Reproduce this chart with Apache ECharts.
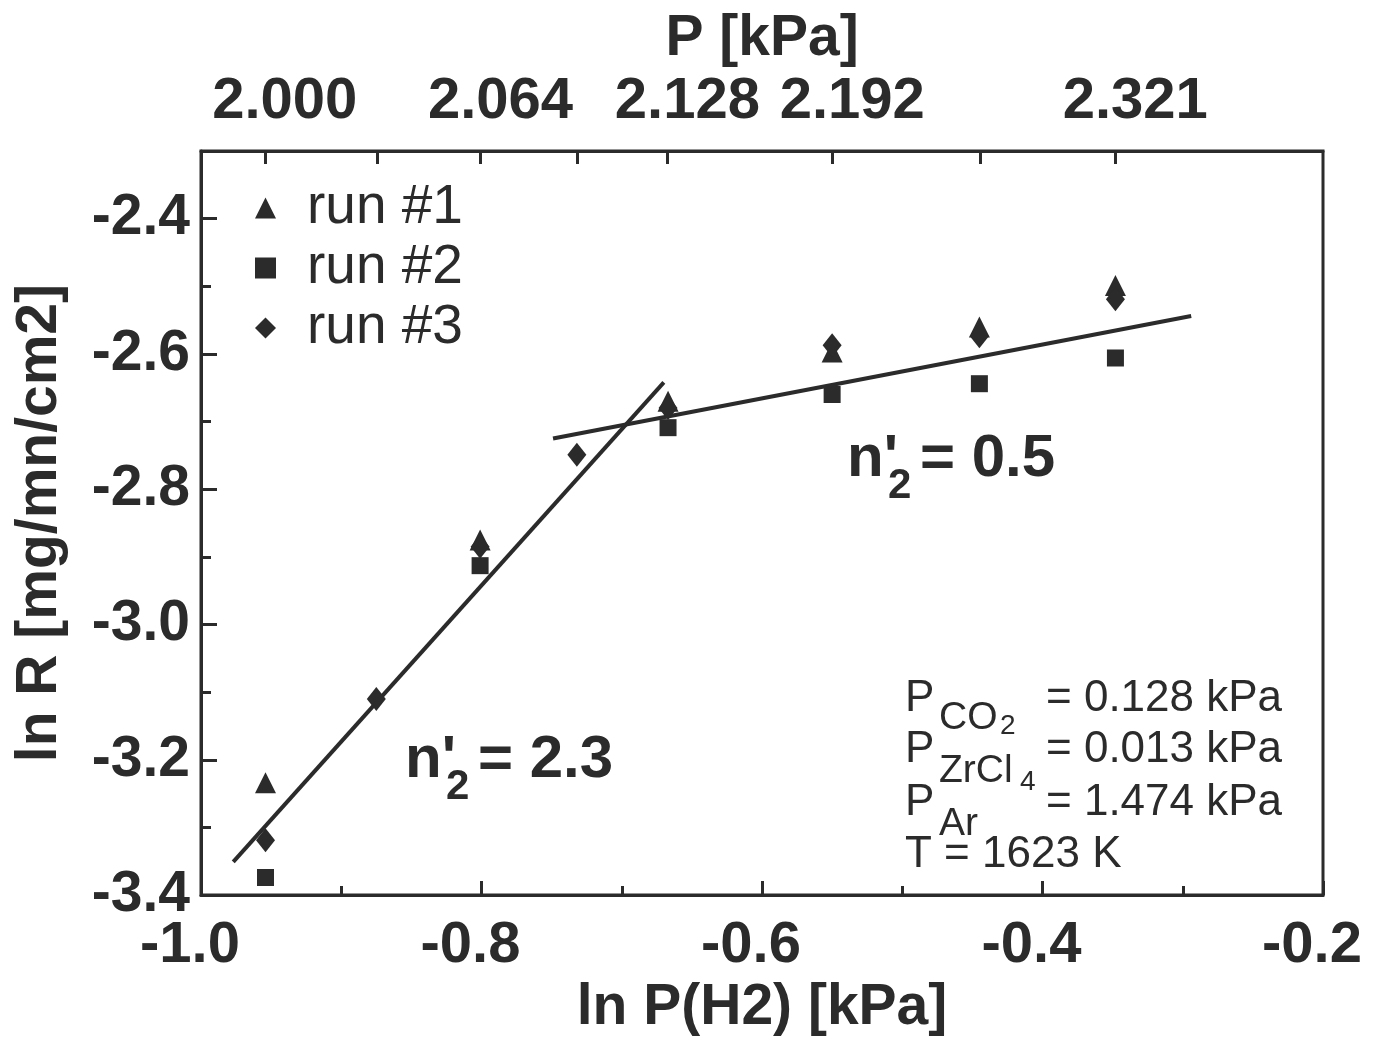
<!DOCTYPE html>
<html>
<head>
<meta charset="utf-8">
<script src="https://cdn.jsdelivr.net/npm/echarts@6/dist/echarts.min.js"></script>
<style>
  html, body { margin: 0; padding: 0; background: #fff; }
  #chart { width: 1376px; height: 1042px; }
</style>
</head>
<body>
<div id="chart"></div>
<script>
// ln P(H2) of each measurement
var lnP = [-0.954, -0.875, -0.801, -0.732, -0.667, -0.550, -0.445, -0.348];
// ln R for each run (null = no visible point)
var run1 = [-3.234, null, -2.875, null, -2.670, -2.597, -2.560, -2.499];
var run2 = [-3.374, null, -2.913, null, -2.709, -2.660, -2.644, -2.606];
var run3 = [-3.319, -3.110, -2.885, -2.749, -2.680, -2.587, -2.574, -2.519];
var runNames = ['run #1', 'run #2', 'run #3'];

// fitted lines (end points)
var fitSteep = [[-0.977, -3.351], [-0.670, -2.642]];
var fitFlat = [[-0.749, -2.725], [-0.294, -2.544]];

// top axis: total pressure P [kPa]
var topTickP = ['2.000', '2.032', '2.064', '2.096', '2.128', '2.192', '2.256', '2.321'];
var topLabelP = ['2.000', '2.064', '2.128', '2.192', '2.321'];
var otherP = 0.128 + 0.013 + 1.474; // CO2 + ZrCl4 + Ar

function pToLn(p) { return Math.log(parseFloat(p) - otherP); }
var topTickPos = topTickP.map(pToLn);
var topLabelPos = topLabelP.map(pToLn);

function pairs(ys) {
  var out = [];
  for (var i = 0; i < lnP.length; i++) {
    if (ys[i] !== null) out.push([lnP[i], ys[i]]);
  }
  return out;
}

var ink = '#2b2b2b';
var font = '"Liberation Sans", Arial, sans-serif';

var myChart = echarts.init(document.getElementById('chart'));
var option = {
  backgroundColor: '#fff',
  animation: false,
  grid: {
    left: 201, right: 53, top: 151, bottom: 146,
    show: true, borderColor: ink, borderWidth: 3, backgroundColor: 'transparent'
  },
  legend: {
    data: runNames,
    orient: 'vertical',
    left: 250, top: 173,
    itemWidth: 21, itemHeight: 21, itemGap: 0,
    textStyle: {
      color: ink, fontSize: 55, fontFamily: font, lineHeight: 60,
      padding: [0, 0, 0, 26]
    }
  },
  xAxis: [
    {
      type: 'value', position: 'bottom',
      min: -1.0, max: -0.2, interval: 0.2,
      name: 'ln P(H2) [kPa]', nameLocation: 'middle', nameGap: 78,
      nameTextStyle: { color: ink, fontSize: 57, fontWeight: 'bold', fontFamily: font },
      axisLine: { lineStyle: { color: ink, width: 3 } },
      axisTick: { inside: true, length: 14, lineStyle: { color: ink, width: 3 } },
      minorTick: { show: true, splitNumber: 2, length: 9, lineStyle: { color: ink, width: 3 } },
      splitLine: { show: false },
      axisLabel: {
        color: ink, fontSize: 58, fontWeight: 'bold', fontFamily: font, margin: 22,
        padding: [0, 22, 0, 0],
        formatter: function (v) { return v.toFixed(1); }
      }
    },
    {
      type: 'value', position: 'top',
      min: -1.0, max: -0.2,
      name: 'P [kPa]', nameLocation: 'middle', nameGap: 82,
      nameTextStyle: { color: ink, fontSize: 57, fontWeight: 'bold', fontFamily: font },
      axisLine: { lineStyle: { color: ink, width: 3 } },
      axisTick: { inside: true, length: 13, customValues: topTickPos, lineStyle: { color: ink, width: 3 } },
      splitLine: { show: false },
      axisLabel: {
        color: ink, fontSize: 58, fontWeight: 'bold', fontFamily: font, margin: 20,
        customValues: topLabelPos,
        padding: [0, 0, 0, 40],
        formatter: function (v) {
          var best = 0;
          for (var i = 1; i < topLabelPos.length; i++) {
            if (Math.abs(topLabelPos[i] - v) < Math.abs(topLabelPos[best] - v)) best = i;
          }
          return topLabelP[best];
        }
      }
    }
  ],
  yAxis: {
    type: 'value',
    min: -3.4, max: -2.3, interval: 0.2,
    name: 'ln R [mg/mn/cm2]', nameLocation: 'middle', nameGap: 132,
    nameTextStyle: { color: ink, fontSize: 57, fontWeight: 'bold', fontFamily: font },
    axisLine: { show: true, lineStyle: { color: ink, width: 3 } },
    axisTick: { show: true, inside: true, length: 16, lineStyle: { color: ink, width: 3 } },
    minorTick: { show: true, splitNumber: 2, length: 10, lineStyle: { color: ink, width: 3 } },
    splitLine: { show: false },
    axisLabel: {
      color: ink, fontSize: 57, fontWeight: 'bold', fontFamily: font, margin: 11,
      showMaxLabel: false,
      formatter: function (v) { return v.toFixed(1); }
    }
  },
  series: [
    {
      name: 'fit steep', type: 'line', data: fitSteep, symbol: 'none',
      lineStyle: { color: ink, width: 4 }, silent: true, z: 1
    },
    {
      name: 'fit flat', type: 'line', data: fitFlat, symbol: 'none',
      lineStyle: { color: ink, width: 4 }, silent: true, z: 1
    },
    {
      name: runNames[0], type: 'scatter', data: pairs(run1),
      symbol: 'triangle', symbolSize: [21, 21], itemStyle: { color: ink, opacity: 1 }, z: 3
    },
    {
      name: runNames[1], type: 'scatter', data: pairs(run2),
      symbol: 'rect', symbolSize: 17, itemStyle: { color: ink, opacity: 1 }, z: 3
    },
    {
      name: runNames[2], type: 'scatter', data: pairs(run3),
      symbol: 'diamond', symbolSize: [19, 24], itemStyle: { color: ink, opacity: 1 }, z: 4
    }
  ],
  graphic: [
    // slope annotations
    { type: 'text', left: 405, top: 730, style: { text: "n'", fill: ink, font: 'bold 60px ' + font } },
    { type: 'text', left: 446, top: 766, style: { text: '2', fill: ink, font: 'bold 42px ' + font } },
    { type: 'text', left: 478, top: 730, style: { text: '= 2.3', fill: ink, font: 'bold 60px ' + font } },
    { type: 'text', left: 847, top: 429, style: { text: "n'", fill: ink, font: 'bold 60px ' + font } },
    { type: 'text', left: 888, top: 465, style: { text: '2', fill: ink, font: 'bold 42px ' + font } },
    { type: 'text', left: 920, top: 429, style: { text: '= 0.5', fill: ink, font: 'bold 60px ' + font } },
    // experimental conditions
    { type: 'text', left: 905, top: 677, style: { text: 'P', fill: ink, font: '44px ' + font } },
    { type: 'text', left: 939, top: 699, style: { text: 'CO', fill: ink, font: '39px ' + font } },
    { type: 'text', left: 1000, top: 712, style: { text: '2', fill: ink, font: '28px ' + font } },
    { type: 'text', left: 1046, top: 677, style: { text: '= 0.128 kPa', fill: ink, font: '44px ' + font } },
    { type: 'text', left: 905, top: 728, style: { text: 'P', fill: ink, font: '44px ' + font } },
    { type: 'text', left: 939, top: 752, style: { text: 'ZrCl', fill: ink, font: '39px ' + font } },
    { type: 'text', left: 1020, top: 768, style: { text: '4', fill: ink, font: '28px ' + font } },
    { type: 'text', left: 1046, top: 728, style: { text: '= 0.013 kPa', fill: ink, font: '44px ' + font } },
    { type: 'text', left: 905, top: 781, style: { text: 'P', fill: ink, font: '44px ' + font } },
    { type: 'text', left: 939, top: 805, style: { text: 'Ar', fill: ink, font: '39px ' + font } },
    { type: 'text', left: 1046, top: 781, style: { text: '= 1.474 kPa', fill: ink, font: '44px ' + font } },
    { type: 'text', left: 905, top: 833, style: { text: 'T = 1623 K', fill: ink, font: '44px ' + font } }
  ]
};
myChart.setOption(option);
</script>
</body>
</html>
